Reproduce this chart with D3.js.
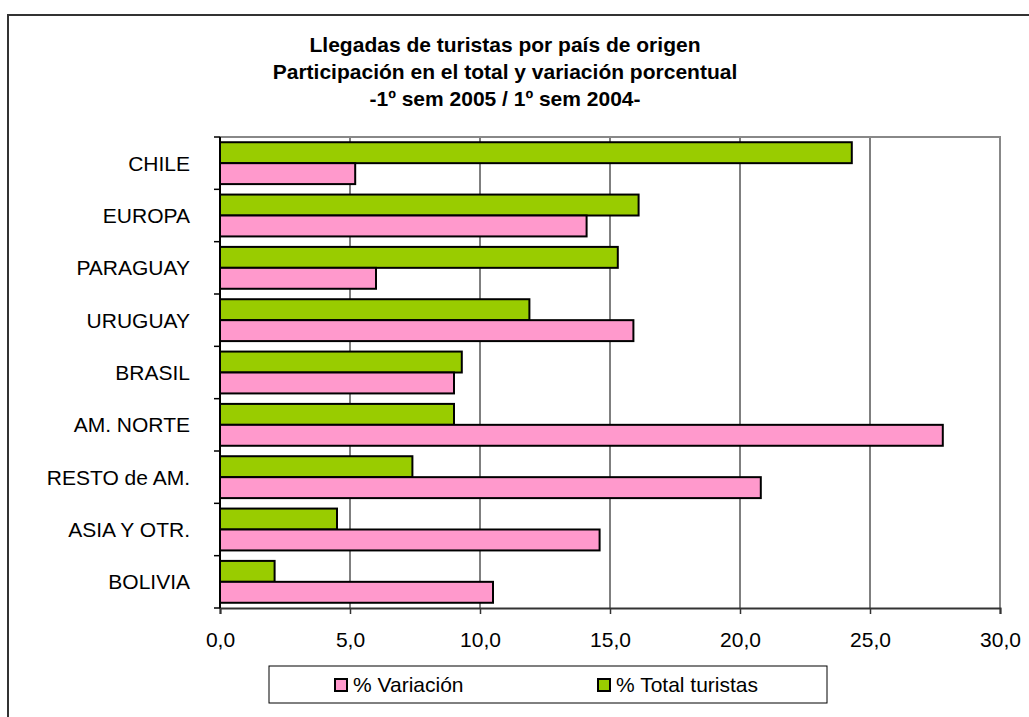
<!DOCTYPE html>
<html>
<head>
<meta charset="utf-8">
<script src="https://cdn.jsdelivr.net/npm/d3@7"></script>
<style>
  body { margin: 0; background: #fff; }
  text { font-family: Arial, 'Liberation Sans', sans-serif; }
</style>
</head>
<body>
<div id="d3"></div>
<script>
/* globals d3 */

let paises = ['CHILE', 'EUROPA', 'PARAGUAY', 'URUGUAY', 'BRASIL', 'AM. NORTE', 'RESTO de AM.', 'ASIA Y OTR.', 'BOLIVIA']
let totalTuristas = [24.3, 16.1, 15.3, 11.9, 9.3, 9.0, 7.4, 4.5, 2.1]
let variacion = [5.2, 14.1, 6.0, 15.9, 9.0, 27.8, 20.8, 14.6, 10.5]
let xTicks = [0, 5, 10, 15, 20, 25, 30]
let titulo = ['Llegadas de turistas por país de origen', 'Participación en el total y variación porcentual', '-1º sem 2005 / 1º sem 2004-']
let series = [
  {name: '% Total turistas', values: totalTuristas, color: '#99cc00'},
  {name: '% Variación', values: variacion, color: '#ff99cc'}
]
let legendOrder = ['% Variación', '% Total turistas']

let width = 1029
let height = 717
let plotLeft = 220
let plotRight = 1000
let plotTop = 137
let plotBottom = 608
let fontSize = 21

let svg = d3.select('#d3').append('svg').attr('width', width).attr('height', height)

// outer chart frame
svg.append('rect')
    .attr('x', 8).attr('y', 15)
    .attr('width', 1040).attr('height', 740)
    .attr('fill', '#fff').attr('stroke', '#333').attr('stroke-width', 2)

svg.append('g').selectAll('text')
    .data(titulo)
    .enter().append('text')
      .attr('x', 505)
      .attr('y', (d, i) => 52 + i * 27)
      .attr('text-anchor', 'middle')
      .attr('font-size', fontSize)
      .attr('font-weight', 'bold')
      .text((d) => d)

let x = d3.scaleLinear().domain([0, 30]).range([plotLeft, plotRight])
let y = d3.scaleBand().domain(paises).range([plotTop, plotBottom])
let y1 = d3.scaleBand().domain(series.map((s) => s.name)).range([0, y.bandwidth()]).paddingInner(0).paddingOuter(0.25)

// grid lines
svg.append('g').selectAll('line')
    .data(xTicks.filter((t) => t > 0 && t < 30))
    .enter().append('line')
      .attr('x1', (d) => x(d)).attr('x2', (d) => x(d))
      .attr('y1', plotTop).attr('y2', plotBottom)
      .attr('stroke', '#000').attr('stroke-width', 1)

// plot frame (top and right in gray)
svg.append('path')
    .attr('d', `M${plotLeft},${plotTop}H${plotRight}V${plotBottom}`)
    .attr('fill', 'none').attr('stroke', '#888').attr('stroke-width', 2)

let groups = svg.append('g').selectAll('g')
    .data(series)
    .enter().append('g')

groups.selectAll('rect')
    .data((s) => s.values.map((v, i) => ({name: s.name, pais: paises[i], value: v, color: s.color})))
    .enter().append('rect')
      .attr('x', x(0))
      .attr('y', (d) => y(d.pais) + y1(d.name))
      .attr('width', (d) => x(d.value) - x(0))
      .attr('height', y1.bandwidth())
      .attr('fill', (d) => d.color)
      .attr('stroke', '#000').attr('stroke-width', 2)

// x axis
let xAxis = d3.axisBottom(x)
    .tickValues(xTicks)
    .tickSize(6)
    .tickPadding(18)
    .tickFormat((d) => d3.format('.1f')(d).replace('.', ','))
let gx = svg.append('g').attr('transform', `translate(0,${plotBottom})`).call(xAxis)
gx.select('.domain').attr('stroke', '#333').attr('stroke-width', 2)
gx.selectAll('.tick line').attr('stroke', '#333').attr('stroke-width', 1.5)
gx.selectAll('.tick text').attr('font-size', fontSize).attr('fill', '#000')

// y axis: ticks between categories, labels at centers
let yAxisLine = svg.append('g')
yAxisLine.append('line')
    .attr('x1', plotLeft).attr('x2', plotLeft)
    .attr('y1', plotTop).attr('y2', plotBottom)
    .attr('stroke', '#000').attr('stroke-width', 2)
yAxisLine.selectAll('.tk')
    .data(paises.concat(['end']))
    .enter().append('line')
      .attr('class', 'tk')
      .attr('x1', plotLeft - 6).attr('x2', plotLeft)
      .attr('y1', (d, i) => plotTop + i * y.bandwidth())
      .attr('y2', (d, i) => plotTop + i * y.bandwidth())
      .attr('stroke', '#000').attr('stroke-width', 1.5)

svg.append('g').selectAll('text')
    .data(paises)
    .enter().append('text')
      .attr('x', 190)
      .attr('y', (d) => y(d) + y.bandwidth() / 2)
      .attr('dy', '0.35em')
      .attr('text-anchor', 'end')
      .attr('font-size', fontSize)
      .text((d) => d)

// legend
let legend = svg.append('g')
legend.append('rect')
    .attr('x', 269).attr('y', 666)
    .attr('width', 558).attr('height', 37)
    .attr('fill', '#fff').attr('stroke', '#000').attr('stroke-width', 1)

let items = legend.selectAll('.item')
    .data(legendOrder.map((n) => series.find((s) => s.name === n)))
    .enter().append('g')
      .attr('class', 'item')
      .attr('transform', (d, i) => `translate(${[335, 598][i]},685)`)
items.append('rect')
    .attr('x', 0).attr('y', -6)
    .attr('width', 12).attr('height', 12)
    .attr('fill', (d) => d.color)
    .attr('stroke', '#000').attr('stroke-width', 2)
items.append('text')
    .attr('x', 18)
    .attr('dy', '0.35em')
    .attr('font-size', fontSize)
    .text((d) => d.name)
</script>
</body>
</html>
